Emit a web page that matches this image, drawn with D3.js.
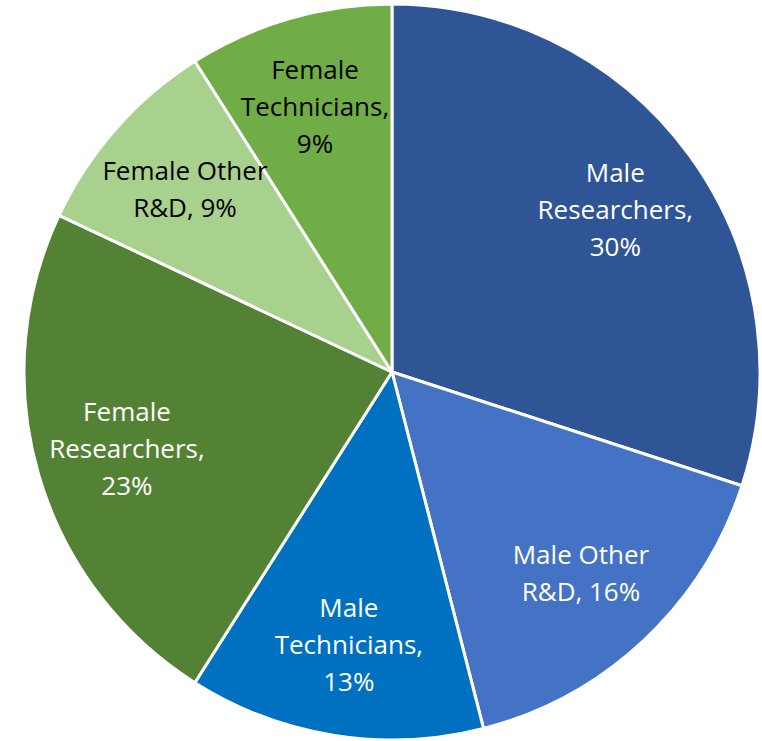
<!DOCTYPE html>
<html>
<head>
<meta charset="utf-8">
<script src="https://cdn.jsdelivr.net/npm/d3@7"></script>
<style>
  html, body { margin: 0; padding: 0; background: #fff; }
  svg text { font-family: "Open Sans", Lato, sans-serif; }
</style>
</head>
<body>
<div id="chart"></div>
<script>
// slices in drawing order, clockwise from 12 o'clock
var categories = ["Male Researchers", "Male Other R&D", "Male Technicians",
                  "Female Researchers", "Female Other R&D", "Female Technicians"];
var shares = [30, 16, 13, 23, 9, 9];
var labelLines = [
  ["Male", "Researchers,", "30%"],
  ["Male Other", "R&D, 16%"],
  ["Male", "Technicians,", "13%"],
  ["Female", "Researchers,", "23%"],
  ["Female Other", "R&D, 9%"],
  ["Female", "Technicians,", "9%"]
];
var colors = ["#2F5597", "#4472C4", "#0070C0", "#548235", "#A9D18E", "#70AD47"];
var textColors = ["#fff", "#fff", "#fff", "#fff", "#000", "#000"];

var width = 762, height = 741;
var radius = 368;
var cx = 392, cy = 372;

var data = categories.map(function(c, i) {
  return {name: c, value: shares[i], lines: labelLines[i], color: colors[i], text: textColors[i]};
});

var svg = d3.select("#chart").append("svg")
  .attr("width", width)
  .attr("height", height)
  .append("g")
  .attr("transform", "translate(" + cx + "," + cy + ")");

var pie = d3.pie()
  .sort(null)
  .value(function(d) { return d.value; });

var arc = d3.arc()
  .innerRadius(0)
  .outerRadius(radius);

var labelArc = d3.arc()
  .innerRadius(radius * 0.75)
  .outerRadius(radius * 0.75);

var slices = pie(data);

svg.selectAll("path.slice")
  .data(slices)
  .enter().append("path")
  .attr("class", "slice")
  .attr("d", arc)
  .attr("fill", function(d) { return d.data.color; })
  .attr("stroke", "#fff")
  .attr("stroke-width", 3)
  .attr("stroke-linejoin", "round");

var lineH = 37;

var labels = svg.selectAll("text.label")
  .data(slices)
  .enter().append("text")
  .attr("class", "label")
  .attr("transform", function(d) {
    var c = labelArc.centroid(d);
    return "translate(" + c[0] + "," + c[1] + ")";
  })
  .attr("text-anchor", "middle")
  .attr("font-size", 26)
  .attr("fill", function(d) { return d.data.text; });

labels.each(function(d) {
  var n = d.data.lines.length;
  var t = d3.select(this);
  d.data.lines.forEach(function(line, i) {
    t.append("tspan")
      .attr("x", 0)
      .attr("y", (i - (n - 1) / 2) * lineH)
      .attr("dy", "0.35em")
      .text(line);
  });
});
</script>
</body>
</html>
